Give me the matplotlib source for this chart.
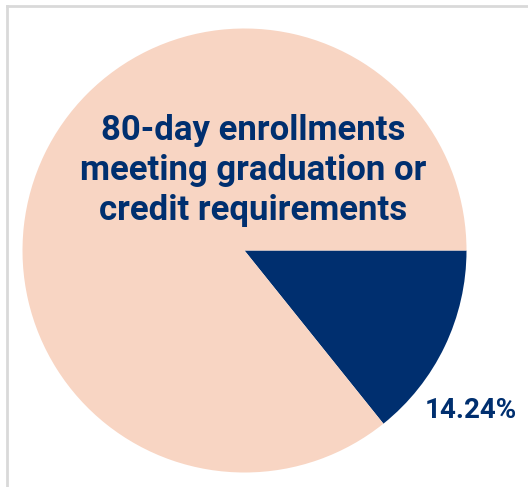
import matplotlib
matplotlib.use("Agg")
import matplotlib.pyplot as plt

categories = ["Not meeting", "80-day enrollments\nmeeting graduation or\ncredit requirements"]
values = [14.24, 85.76]
colors = ["#002F6F", "#F8D5C3"]

W, H = 528, 487
fig = plt.figure(figsize=(W / 100, H / 100), dpi=100)
fig.patch.set_facecolor("white")

# border lines (top and left)
fig.add_artist(plt.Line2D([7 / W, 7 / W], [0, 1 - 6 / H], transform=fig.transFigure,
                          color="#D9D9D9", lw=2))
fig.add_artist(plt.Line2D([7 / W, 1], [1 - 6 / H, 1 - 6 / H], transform=fig.transFigure,
                          color="#D9D9D9", lw=2))

cx, cy, r = 244.5, 487 - 250.5, 222
ax = fig.add_axes([(cx - r) / W, (cy - r) / H, 2 * r / W, 2 * r / H])
ax.pie(values, colors=colors, startangle=0, counterclock=False,
       wedgeprops=dict(linewidth=0))
ax.set_xlim(-1, 1)
ax.set_ylim(-1, 1)
ax.axis("off")

ax.text(0.04, 0.36, categories[1], ha="center", va="center", fontsize=25,
        fontweight="bold", color="#002F6F", family="Roboto", linespacing=1.27)
ax.text(1.02, -0.72, f"{values[0]:.2f}%", ha="center", va="center", fontsize=20,
        fontweight="bold", color="#002F6F", family="Roboto")

fig.savefig("out.png", dpi=100)
